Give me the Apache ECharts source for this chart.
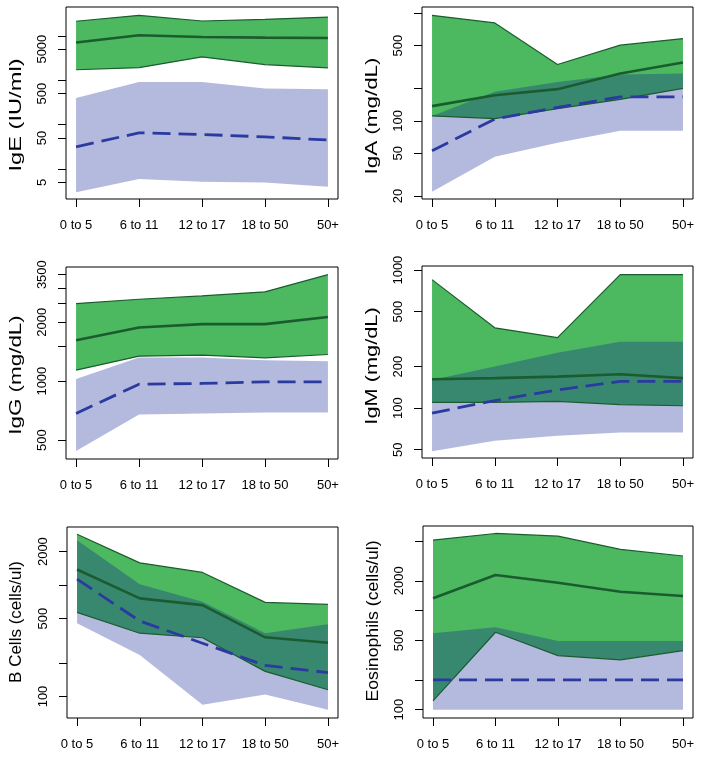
<!DOCTYPE html>
<html>
<head>
<meta charset="utf-8">
<script src="https://cdn.jsdelivr.net/npm/echarts@6/dist/echarts.min.js"></script>
<style>
html,body{margin:0;padding:0;background:#fff;}
#chart{width:704px;height:757px;}
</style>
</head>
<body>
<div id="chart"></div>
<script>
// ---- categories ----
var ageGroups = ['0 to 5', '6 to 11', '12 to 17', '18 to 50', '50+'];

// ---- IgE (IU/ml) ----
var igeGreenUpper = [21200, 28900, 21500, 23500, 26400];
var igeGreenMedian = [7030, 10300, 9400, 9100, 8900];
var igeGreenLower = [1720, 1910, 3340, 2250, 1890];
var igeBlueUpper = [400, 916, 916, 650, 628];
var igeBlueMedian = [31.7, 65.5, 60, 53, 45];
var igeBlueLower = [3.0, 6.0, 5.2, 5.0, 4.0];
var igeTicks = [5, 10, 50, 100, 500, 1000, 5000, 10000];
var igeLabels = [5, 50, 500, 5000];

// ---- IgA (mg/dL) ----
var igaGreenUpper = [957, 813, 334, 505, 582];
var igaGreenMedian = [137, 173, 197, 275, 348];
var igaGreenLower = [111, 105, 130, 158, 200];
var igaBlueUpper = [111, 186, 230, 270, 275];
var igaBlueMedian = [52.6, 104, 133, 167, 167];
var igaBlueLower = [21.9, 46.3, 62.5, 80.7, 80.7];
var igaTicks = [20, 50, 100, 200, 500, 1000];
var igaLabels = [20, 50, 100, 500];

// ---- IgG (mg/dL) ----
var iggGreenUpper = [2490, 2620, 2725, 2860, 3500];
var iggGreenMedian = [1618, 1880, 1955, 1955, 2127];
var iggGreenLower = [1138, 1342, 1358, 1315, 1368];
var iggBlueUpper = [1024, 1321, 1321, 1280, 1265];
var iggBlueMedian = [684, 965, 973, 992, 992];
var iggBlueLower = [440, 676, 684, 692, 692];
var iggTicks = [500, 1000, 1500, 2000, 2500, 3000, 3500];
var iggLabels = [500, 1000, 2000, 3500];

// ---- IgM (mg/dL) ----
var igmGreenUpper = [853, 382, 324, 928, 928];
var igmGreenMedian = [162, 165, 169, 176, 165];
var igmGreenLower = [110, 110, 112, 106, 104];
var igmBlueUpper = [160, 200, 252, 303, 303];
var igmBlueMedian = [92, 113.5, 135.5, 156, 156];
var igmBlueLower = [48.6, 58, 63, 66.7, 66.7];
var igmTicks = [50, 100, 200, 500, 1000];
var igmLabels = [50, 100, 200, 500, 1000];

// ---- B Cells (cells/ul) ----
var bcGreenUpper = [2866, 1585, 1300, 700, 671];
var bcGreenMedian = [1383, 760, 662, 340, 304];
var bcGreenLower = [570, 370, 337, 168, 115];
var bcBlueUpper = [2530, 1021, 708, 370, 445];
var bcBlueMedian = [1132, 476, 301, 190, 164];
var bcBlueLower = [454, 236, 84.3, 104, 76];
var bcTicks = [100, 200, 500, 1000, 2000];
var bcLabels = [100, 500, 2000];

// ---- Eosinophils (cells/ul) ----
var eoGreenUpper = [5150, 6010, 5650, 4150, 3560];
var eoGreenMedian = [1333, 2290, 1915, 1553, 1406];
var eoGreenLower = [123, 605, 352, 319, 395];
var eoBlueUpper = [592, 681, 495, 495, 495];
var eoBlueMedian = [200, 200, 200, 200, 200];
var eoBlueLower = [100, 100, 100, 100, 100];
var eoTicks = [100, 200, 500, 1000, 2000, 5000];
var eoLabels = [100, 500, 2000];

var panels = [
  {name: 'IgE (IU/ml)', gu: igeGreenUpper, gm: igeGreenMedian, gl: igeGreenLower, bu: igeBlueUpper, bm: igeBlueMedian, bl: igeBlueLower, ticks: igeTicks, labels: igeLabels, min: 2.12, max: 44400,
   grid: {left: 66, top: 7, width: 272, height: 192}, title: {x: 16.5, y: 115, size: 16, stretch: 1.48}},
  {name: 'IgA (mg/dL)', gu: igaGreenUpper, gm: igaGreenMedian, gl: igaGreenLower, bu: igaBlueUpper, bm: igaBlueMedian, bl: igaBlueLower, ticks: igaTicks, labels: igaLabels, min: 18.75, max: 1144,
   grid: {left: 422, top: 7, width: 271, height: 192}, title: {x: 373, y: 116, size: 16, stretch: 1.4}},
  {name: 'IgG (mg/dL)', gu: iggGreenUpper, gm: iggGreenMedian, gl: iggGreenLower, bu: iggBlueUpper, bm: iggBlueMedian, bl: iggBlueLower, ticks: iggTicks, labels: iggLabels, min: 400, max: 3830,
   grid: {left: 66, top: 267, width: 272, height: 192}, title: {x: 16.5, y: 375, size: 16, stretch: 1.4}},
  {name: 'IgM (mg/dL)', gu: igmGreenUpper, gm: igmGreenMedian, gl: igmGreenLower, bu: igmBlueUpper, bm: igmBlueMedian, bl: igmBlueLower, ticks: igmTicks, labels: igmLabels, min: 43.5, max: 1071,
   grid: {left: 422, top: 266, width: 271, height: 192}, title: {x: 373, y: 366, size: 16, stretch: 1.36}},
  {name: 'B Cells (cells/ul)', gu: bcGreenUpper, gm: bcGreenMedian, gl: bcGreenLower, bu: bcBlueUpper, bm: bcBlueMedian, bl: bcBlueLower, ticks: bcTicks, labels: bcLabels, min: 64.1, max: 3327,
   grid: {left: 67, top: 527, width: 271, height: 191}, title: {x: 16.5, y: 622, size: 17, stretch: 1.0}},
  {name: 'Eosinophils (cells/ul)', gu: eoGreenUpper, gm: eoGreenMedian, gl: eoGreenLower, bu: eoBlueUpper, bm: eoBlueMedian, bl: eoBlueLower, ticks: eoTicks, labels: eoLabels, min: 82.5, max: 7150,
   grid: {left: 423, top: 526, width: 270, height: 192}, title: {x: 373, y: 621, size: 17, stretch: 1.04}}
];

var FONT = 'Liberation Sans, Arial, Helvetica, sans-serif';
var GREEN_FILL = '#4cb860';
var GREEN_LINE = '#1b5c2f';
var BLUE_FILL = 'rgba(12,30,150,0.31)';
var BLUE_LINE = '#2b3a9f';
var xPos = [1, 2, 3, 4, 5];

function pairs(arr) { return arr.map(function (v, i) { return [xPos[i], v]; }); }
function bandData(lo, hi) { return lo.map(function (v, i) { return [xPos[i], v, hi[i]]; }); }

// band polygon drawn through the axes' own coordinate mapping
function bandRenderer(fill) {
  return function (params, api) {
    if (params.dataIndexInside !== 0) return null;
    var n = params.dataInsideLength;
    var top = [], bottom = [];
    for (var i = 0; i < n; i++) {
      var x = api.value(0, i);
      bottom.push(api.coord([x, api.value(1, i)]));
      top.push(api.coord([x, api.value(2, i)]));
    }
    var pts = top.concat(bottom.reverse());
    return {
      type: 'polygon',
      shape: {points: pts},
      style: {fill: fill, stroke: null},
      silent: true
    };
  };
}

var grids = [], xAxes = [], yAxes = [], series = [], titles = [];
panels.forEach(function (p, k) {
  grids.push(Object.assign({show: true, borderColor: '#000', borderWidth: 1, backgroundColor: 'transparent', containLabel: false}, p.grid));
  xAxes.push({
    type: 'value', gridIndex: k, min: 0.84, max: 5.16,
    axisLine: {show: false}, splitLine: {show: false},
    axisTick: {show: true, length: 8, lineStyle: {color: '#000', width: 1}, customValues: xPos},
    axisLabel: {show: true, margin: 20, fontSize: 13, color: '#000', fontFamily: FONT, customValues: xPos,
      formatter: function (v) { return ageGroups[Math.round(v) - 1] || ''; }}
  });
  yAxes.push({
    type: 'log', logBase: 10, gridIndex: k, min: p.min, max: p.max,
    axisLine: {show: false}, splitLine: {show: false}, minorTick: {show: false},
    axisTick: {show: true, length: 8, lineStyle: {color: '#000', width: 1}, customValues: p.ticks},
    axisLabel: {show: true, rotate: 90, margin: 17, fontSize: 13, color: '#000', fontFamily: FONT, customValues: p.labels,
      formatter: function (v) { return String(Math.round(v)); }}
  });
  // y-axis title (rotated, stretched along its length like the reference)
  titles.push({
    type: 'text', x: p.title.x, y: p.title.y, rotation: Math.PI / 2, scaleX: p.title.stretch, scaleY: 1,
    silent: true, z: 10,
    style: {text: p.name, fill: '#000', font: p.title.size + 'px ' + FONT,
      align: 'center', verticalAlign: 'middle', textAlign: 'center', textVerticalAlign: 'middle'}
  });
  var base = {xAxisIndex: k, yAxisIndex: k, silent: true, animation: false};
  // green band
  series.push(Object.assign({}, base, {type: 'custom', data: bandData(p.gl, p.gu), encode: {x: 0, y: [1, 2]}, renderItem: bandRenderer(GREEN_FILL), z: 1}));
  // blue band (semi-transparent, drawn over the green one)
  series.push(Object.assign({}, base, {type: 'custom', data: bandData(p.bl, p.bu), encode: {x: 0, y: [1, 2]}, renderItem: bandRenderer(BLUE_FILL), z: 2}));
  var lineBase = Object.assign({}, base, {type: 'line', symbol: 'none'});
  // green band edges
  series.push(Object.assign({}, lineBase, {data: pairs(p.gu), lineStyle: {color: GREEN_LINE, width: 1.2}, z: 3}));
  series.push(Object.assign({}, lineBase, {data: pairs(p.gl), lineStyle: {color: GREEN_LINE, width: 1.2}, z: 3}));
  // medians
  series.push(Object.assign({}, lineBase, {data: pairs(p.gm), lineStyle: {color: GREEN_LINE, width: 2.6}, z: 4}));
  series.push(Object.assign({}, lineBase, {data: pairs(p.bm), lineStyle: {color: BLUE_LINE, width: 2.8, type: [18, 8]}, z: 5}));
});

var chart = echarts.init(document.getElementById('chart'), null, {renderer: 'canvas'});
chart.setOption({
  animation: false,
  backgroundColor: '#fff',
  textStyle: {fontFamily: FONT},
  grid: grids, xAxis: xAxes, yAxis: yAxes, series: series,
  graphic: {elements: titles}
});
</script>
</body>
</html>
